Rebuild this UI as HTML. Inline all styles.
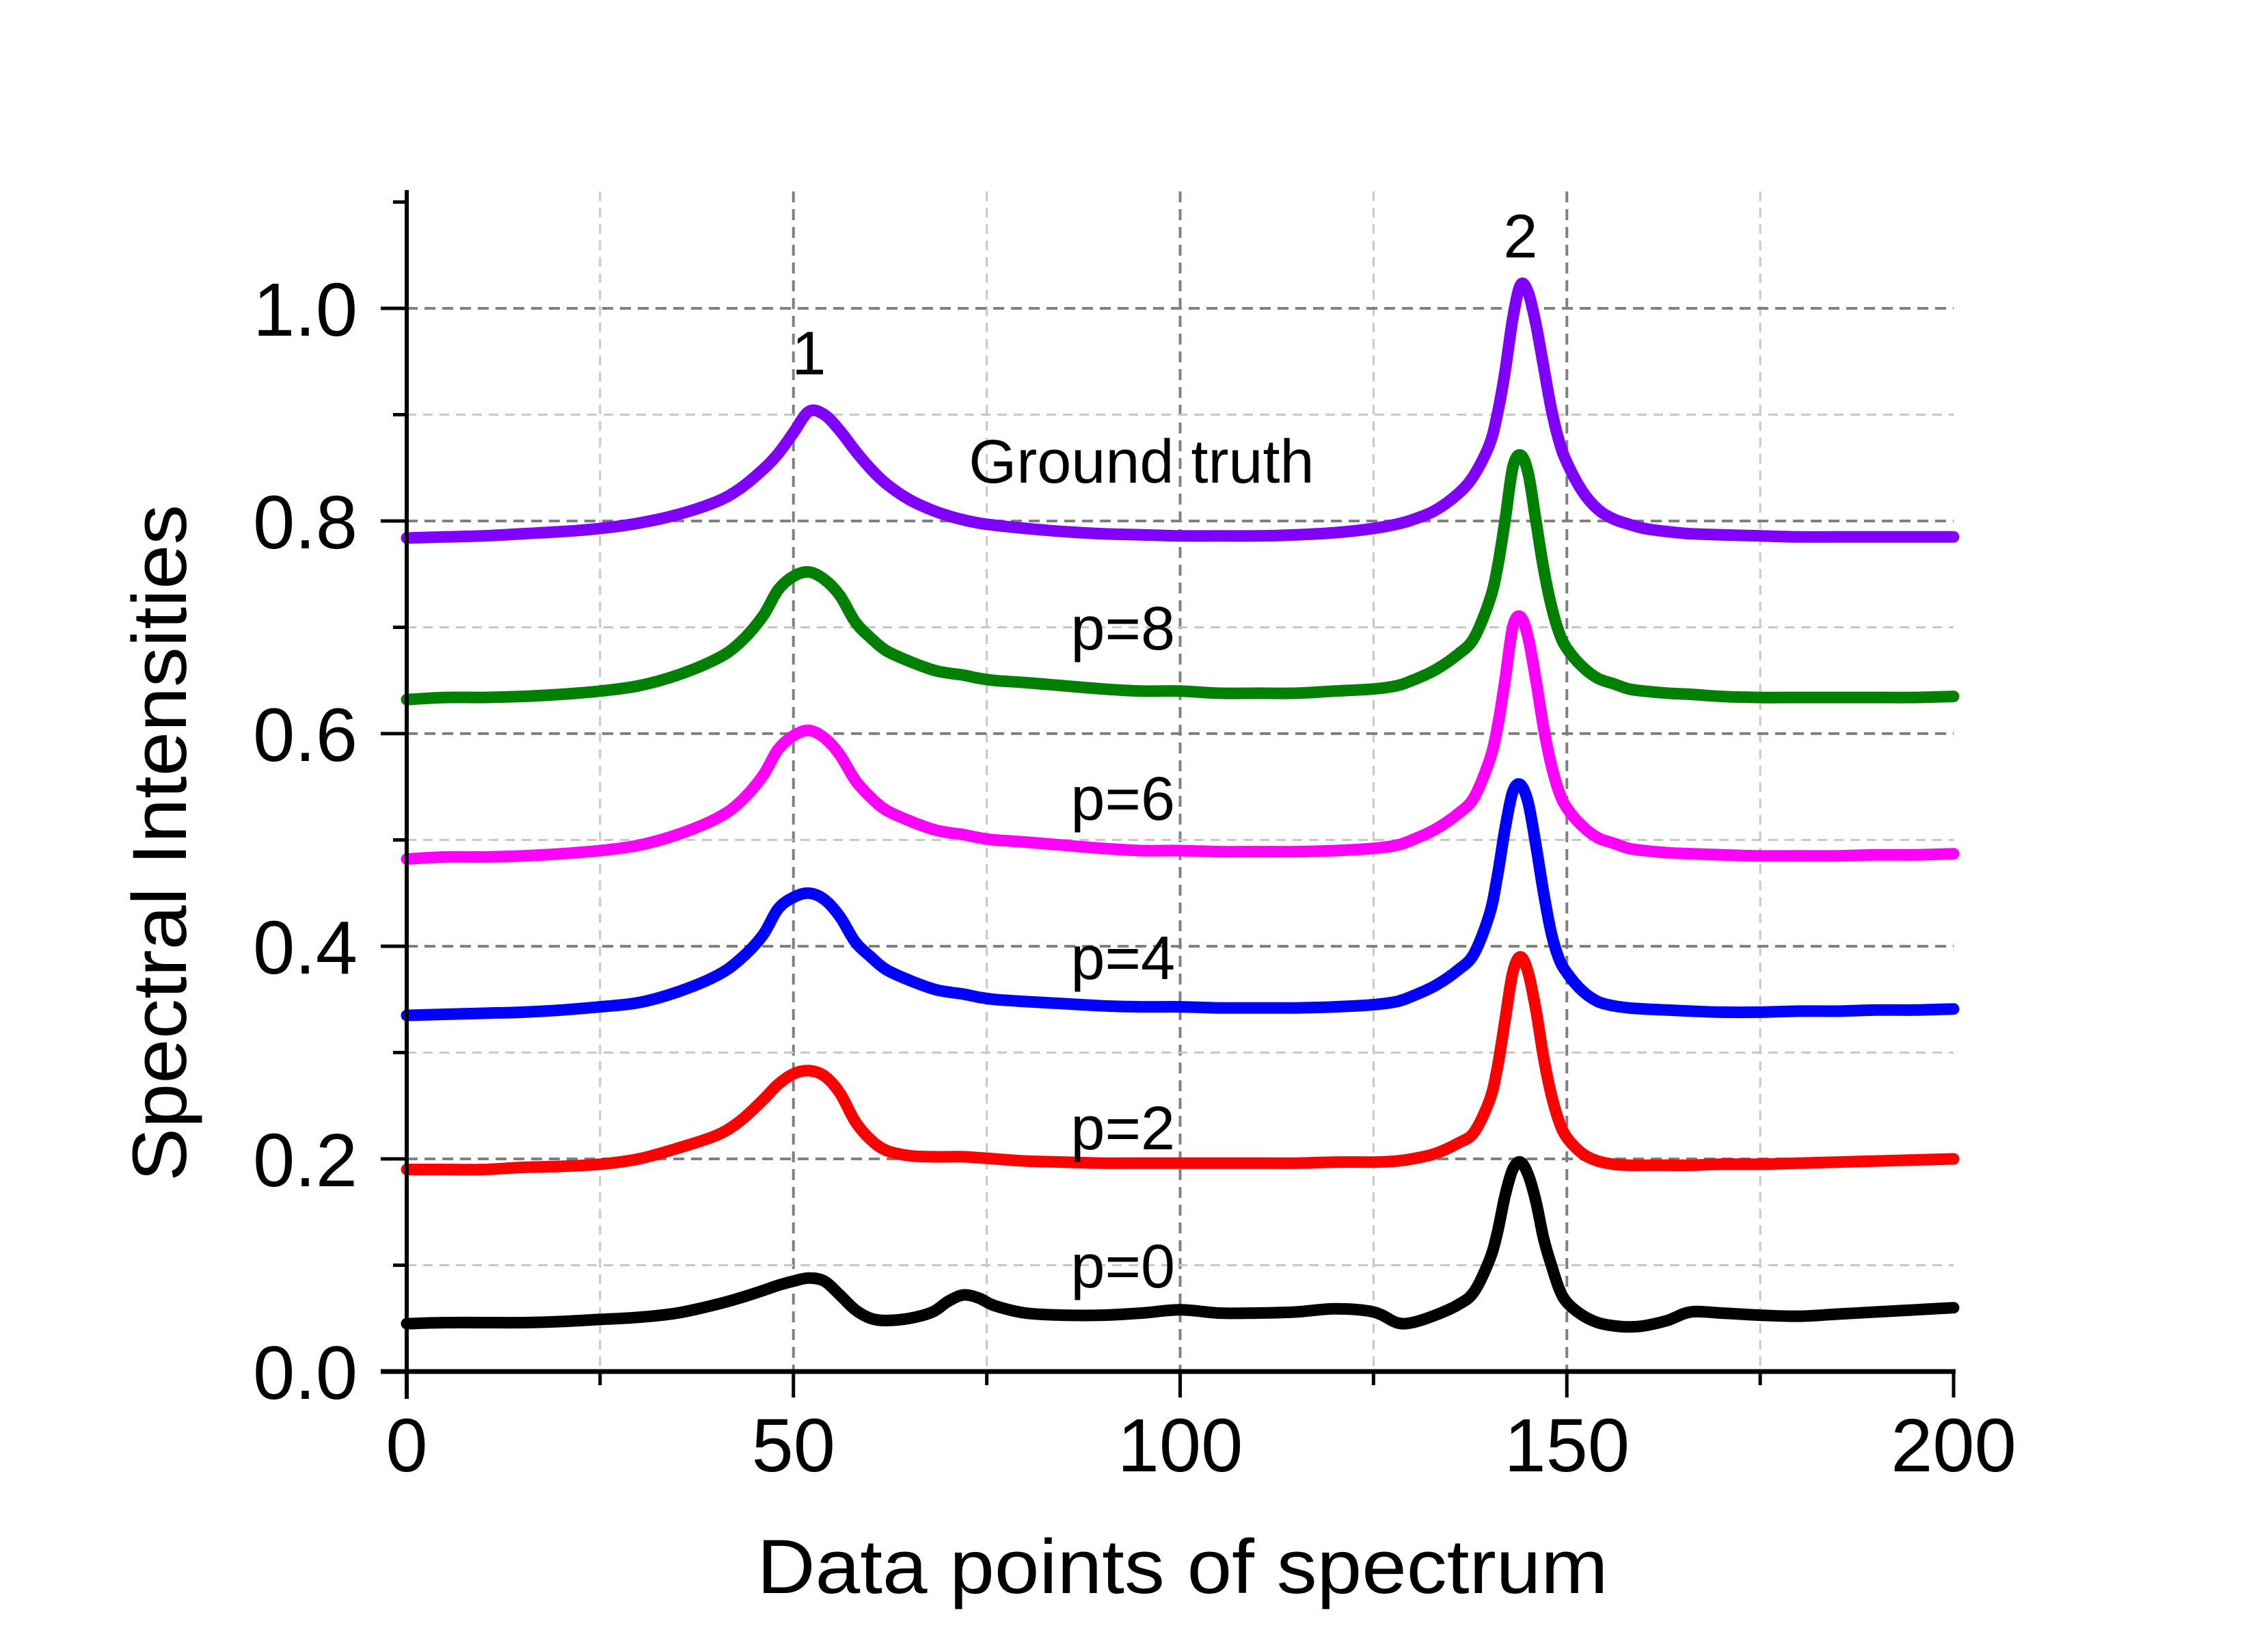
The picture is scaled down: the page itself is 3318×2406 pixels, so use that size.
<!DOCTYPE html>
<html><head><meta charset="utf-8"><style>
html,body{margin:0;padding:0;background:#fff;}
svg{display:block;font-family:"Liberation Sans",Arial,sans-serif;}
</style></head><body>
<svg id="chart" width="3318" height="2406" viewBox="0 0 3318 2406" xmlns="http://www.w3.org/2000/svg">
<g id="grid"></g>
<g id="series"></g>
<g id="axes"></g>
<g id="labels"></g>
<text x="1730" y="2330" font-size="112" text-anchor="middle" textLength="1245" lengthAdjust="spacingAndGlyphs">Data points of spectrum</text>
<text transform="translate(272,1233) rotate(-90)" font-size="112" text-anchor="middle" textLength="990" lengthAdjust="spacingAndGlyphs">Spectral Intensities</text>
</svg>
<script>
const xs = [0,5,10,15,20,25,30,35,40,43,46,48,50,52,54,56,58,60,62,65,68,70,72,74,76,80,85,90,95,100,105,110,115,120,125,128,130,133,136,138,140,141,142,143,144,145,146,147,148,149,150,152,154,156,158,160,163,166,170,175,180,185,190,195,200];
const groundTruth = [.784,.785,.786,.788,.79,.793,.798,.806,.818,.83,.848,.863,.883,.903,.9,.885,.866,.849,.835,.82,.81,.805,.801,.798,.796,.793,.79,.788,.787,.786,.786,.786,.787,.789,.793,.797,.801,.81,.826,.843,.872,.9,.94,.99,1.022,1.015,.985,.945,.905,.875,.855,.828,.811,.802,.797,.793,.79,.788,.787,.786,.785,.785,.785,.785,.785];
const p8 = [.632,.634,.634,.635,.637,.64,.645,.655,.67,.685,.71,.735,.748,.752,.745,.73,.705,.69,.678,.668,.66,.657,.655,.652,.65,.648,.645,.642,.64,.64,.638,.638,.638,.64,.642,.645,.65,.66,.675,.69,.725,.755,.8,.85,.862,.845,.8,.755,.72,.695,.68,.663,.652,.647,.642,.64,.638,.637,.635,.634,.634,.634,.634,.634,.635];
const p6 = [.482,.484,.484,.485,.487,.49,.495,.505,.52,.535,.56,.585,.598,.603,.596,.58,.556,.54,.528,.518,.51,.507,.505,.502,.5,.498,.495,.492,.49,.49,.489,.489,.489,.49,.492,.495,.5,.51,.525,.54,.575,.605,.65,.7,.71,.69,.65,.605,.57,.545,.53,.513,.502,.497,.492,.49,.488,.487,.486,.485,.485,.485,.486,.486,.487];
const p4 = [.335,.336,.337,.338,.34,.343,.347,.357,.372,.387,.41,.435,.446,.45,.444,.428,.404,.39,.378,.368,.36,.357,.355,.352,.35,.348,.346,.344,.343,.343,.342,.342,.342,.343,.345,.348,.353,.363,.378,.393,.43,.465,.51,.545,.552,.535,.495,.45,.412,.388,.375,.358,.348,.344,.342,.341,.34,.339,.338,.338,.339,.339,.34,.34,.341];
const p2 = [.19,.19,.19,.192,.193,.195,.2,.21,.222,.235,.255,.27,.28,.283,.278,.262,.235,.218,.208,.203,.202,.202,.202,.201,.2,.198,.197,.196,.196,.196,.196,.196,.196,.197,.197,.198,.2,.205,.215,.225,.255,.285,.33,.375,.39,.375,.34,.295,.26,.235,.22,.205,.198,.195,.194,.194,.194,.194,.195,.195,.196,.197,.198,.199,.2];
const p0 = [.045,.046,.046,.046,.047,.049,.051,.055,.063,.069,.076,.081,.085,.088,.085,.072,.058,.05,.048,.05,.056,.066,.072,.069,.062,.055,.053,.053,.055,.058,.055,.055,.056,.059,.056,.046,.046,.053,.063,.075,.105,.13,.165,.19,.197,.185,.16,.125,.1,.078,.065,.053,.046,.043,.042,.043,.048,.056,.055,.053,.052,.054,.056,.058,.06];
const seriesNames = ['ground-truth','p8','p6','p4','p2','p0'];
const seriesColors = ['#8000ff','#008000','#ff00ff','#0000ff','#ff0000','#000000'];
const xTicks = [0,50,100,150,200];
const xMinor = [25,75,125,175];
const yTicks = [0,0.2,0.4,0.6,0.8,1.0];
const yMinor = [0.1,0.3,0.5,0.7,0.9,1.1];
const labelTexts = ['1','2','Ground truth','p=8','p=6','p=4','p=2','p=0'];
const labelX = [52,144,95,92.6,92.6,92.6,92.6,92.6];
const labelY = [0.938,1.048,0.836,0.679,0.519,0.369,0.209,0.079];

const NS='http://www.w3.org/2000/svg';
const X0=595, XS=2263/200, Y0=2006, YS=1555;
const sx=v=>X0+v*XS, sy=v=>Y0-v*YS;
const TOP=280;
function mk(tag,attrs,parent){const e=document.createElementNS(NS,tag);for(const k in attrs)e.setAttribute(k,attrs[k]);parent.appendChild(e);return e;}
const grid=document.getElementById('grid'), axes=document.getElementById('axes'), ser=document.getElementById('series'), lab=document.getElementById('labels');

xTicks.slice(1,4).forEach(t=>{const l=mk('line',{x1:sx(t),x2:sx(t),y1:TOP,y2:Y0,stroke:'#808080','stroke-width':4,'stroke-dasharray':'16 10'},grid);

});
xMinor.forEach(t=>{const l=mk('line',{x1:sx(t),x2:sx(t),y1:TOP,y2:Y0,stroke:'#c8c8c8','stroke-width':3,'stroke-dasharray':'14 10'},grid);

});
yTicks.slice(1).forEach(t=>{const l=mk('line',{x1:X0,x2:sx(200),y1:sy(t),y2:sy(t),stroke:'#808080','stroke-width':4,'stroke-dasharray':'16 10'},grid);

});
yMinor.slice(0,5).forEach(t=>{const l=mk('line',{x1:X0,x2:sx(200),y1:sy(t),y2:sy(t),stroke:'#c8c8c8','stroke-width':3,'stroke-dasharray':'14 10'},grid);

});

function pathFor(ys){const p=xs.map((x,i)=>[sx(x),sy(ys[i])]);let d='M'+p[0][0].toFixed(1)+','+p[0][1].toFixed(1);
for(let i=0;i<p.length-1;i++){const a=p[Math.max(i-1,0)],b=p[i],c=p[i+1],e=p[Math.min(i+2,p.length-1)];
const c1=[b[0]+(c[0]-a[0])/6,b[1]+(c[1]-a[1])/6],c2=[c[0]-(e[0]-b[0])/6,c[1]-(e[1]-b[1])/6];
d+=' C'+c1[0].toFixed(1)+','+c1[1].toFixed(1)+' '+c2[0].toFixed(1)+','+c2[1].toFixed(1)+' '+c[0].toFixed(1)+','+c[1].toFixed(1);}
return d;}
[p0,p2,p4,p6,p8,groundTruth].forEach((ys,k)=>{const idx=5-k;
const pth=mk('path',{d:pathFor(ys),fill:'none',stroke:seriesColors[idx],'stroke-width':17,'stroke-linejoin':'round','stroke-linecap':'round'},ser);

});

const ya=mk('line',{x1:X0,x2:X0,y1:TOP-2,y2:Y0+40,stroke:'#000','stroke-width':6},axes);


const xa=mk('line',{x1:X0-38,x2:sx(200)+3,y1:Y0,y2:Y0,stroke:'#000','stroke-width':7},axes);


xTicks.forEach(t=>{const l=mk('line',{x1:sx(t),x2:sx(t),y1:Y0,y2:Y0+38,stroke:'#000','stroke-width':5},axes);


const tx=mk('text',{x:sx(t),y:Y0+146,'font-size':110,'text-anchor':'middle'},axes);tx.textContent=t;

});
xMinor.forEach(t=>{const l=mk('line',{x1:sx(t),x2:sx(t),y1:Y0,y2:Y0+20,stroke:'#000','stroke-width':5},axes);

});
yTicks.forEach(t=>{const l=mk('line',{x1:X0-38,x2:X0,y1:sy(t),y2:sy(t),stroke:'#000','stroke-width':5},axes);


const tx=mk('text',{x:X0-72,y:sy(t)+40,'font-size':110,'text-anchor':'end'},axes);tx.textContent=t.toFixed(1);

});
yMinor.forEach(t=>{const l=mk('line',{x1:X0-20,x2:X0,y1:sy(t),y2:sy(t),stroke:'#000','stroke-width':5},axes);

});

labelTexts.forEach((s,i)=>{const tx=mk('text',{x:sx(labelX[i]),y:sy(labelY[i]),'font-size':90,'text-anchor':'middle'},lab);tx.textContent=s;

});
</script>
</body></html>
